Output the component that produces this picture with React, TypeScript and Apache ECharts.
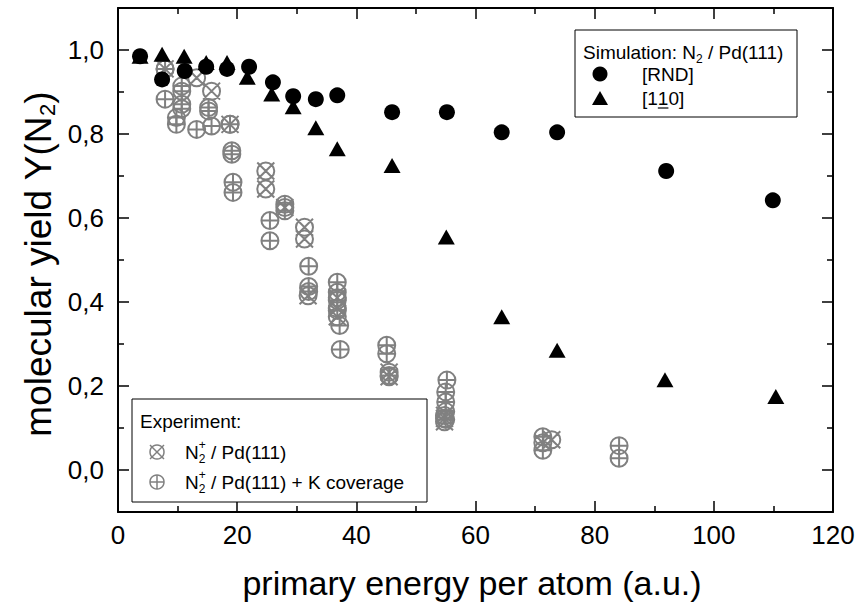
import React, { useEffect, useRef } from 'react';
import * as echarts from 'echarts';

// ---------- data ----------
const xTicks = [0, 20, 40, 60, 80, 100, 120];
const yMajor = [0, 0.2, 0.4, 0.6, 0.8, 1.0];
const yMinor = [0.1, 0.3, 0.5, 0.7, 0.9];

// Simulation N2 / Pd(111), [RND]
const simRnd: number[][] = [
  [3.7, 0.985], [7.4, 0.93], [11.2, 0.95], [14.8, 0.96], [18.3, 0.955], [22.0, 0.96],
  [26.0, 0.923], [29.4, 0.89], [33.2, 0.883], [36.8, 0.892], [46.0, 0.852], [55.2, 0.852],
  [64.4, 0.804], [73.7, 0.804], [92.0, 0.712], [109.9, 0.642],
];
// Simulation N2 / Pd(111), [1-10]
const sim110: number[][] = [
  [3.7, 0.985], [7.4, 0.99], [11.1, 0.985], [14.8, 0.97], [18.3, 0.97], [21.7, 0.935],
  [25.8, 0.895], [29.4, 0.865], [33.2, 0.815], [36.8, 0.765], [46.0, 0.725], [55.1, 0.555],
  [64.4, 0.365], [73.7, 0.285], [91.8, 0.215], [110.4, 0.175],
];
// Experiment N2+ / Pd(111)
const expPd: number[][] = [
  [7.9, 0.955], [13.2, 0.934], [15.7, 0.902], [18.8, 0.823], [24.8, 0.712], [24.8, 0.669],
  [28.0, 0.625], [31.3, 0.578], [31.3, 0.55], [31.9, 0.415], [36.8, 0.41], [36.8, 0.385],
  [36.8, 0.365], [45.5, 0.233], [45.5, 0.222], [54.8, 0.13], [54.8, 0.123], [54.8, 0.115],
  [72.8, 0.072], [71.3, 0.065],
];
// Experiment N2+ / Pd(111) + K coverage
const expPdK: number[][] = [
  [7.9, 0.955], [7.9, 0.883], [9.8, 0.839], [9.8, 0.823], [10.7, 0.914], [10.7, 0.902],
  [10.7, 0.871], [10.7, 0.86], [13.2, 0.811], [15.2, 0.863], [15.2, 0.855], [15.7, 0.819],
  [18.8, 0.823], [19.1, 0.76], [19.1, 0.752], [19.3, 0.685], [19.3, 0.661], [25.5, 0.594],
  [25.5, 0.546], [28.0, 0.633], [28.0, 0.617], [32.0, 0.485], [32.0, 0.437], [32.0, 0.425],
  [36.8, 0.447], [36.8, 0.423], [36.8, 0.404], [36.8, 0.38], [37.2, 0.344], [37.3, 0.287],
  [45.1, 0.297], [45.1, 0.277], [45.5, 0.225], [55.2, 0.214], [55.0, 0.186], [55.0, 0.162],
  [55.0, 0.139], [55.0, 0.12], [71.3, 0.079], [71.3, 0.047], [84.1, 0.058], [84.1, 0.028],
];

// ---------- styling ----------
const FONT = '"Liberation Sans", Arial, Helvetica, sans-serif';
const GRAY = '#808080';
const PATH_X = 'path://M0,0L20,20M20,0L0,20M0,10A10,10,0,1,1,20,10A10,10,0,1,1,0,10Z';
const PATH_PLUS = 'path://M10,0L10,20M0,10L20,10M0,10A10,10,0,1,1,20,10A10,10,0,1,1,0,10Z';

function measure(text: string, size: number): number {
  const ctx = document.createElement('canvas').getContext('2d')!;
  ctx.font = `${size}px ${FONT}`;
  return ctx.measureText(text).width;
}

function txt(text: string, x: number, y: number, size: number, extra: any = {}) {
  return {
    type: 'text',
    x,
    y,
    z: 100,
    style: {
      text,
      font: `${size}px ${FONT}`,
      fill: '#000',
      align: 'left',
      verticalAlign: 'middle',
      textAlign: 'left',
      textVerticalAlign: 'middle',
      ...extra,
    },
  };
}

function buildGraphic() {
  const els: any[] = [];
  const LS = 19;
  const SS = 12;

  // ---- top-right legend ----
  els.push({ type: 'rect', z: 90, shape: { x: 575, y: 30, width: 222, height: 87 }, style: { fill: '#fff', stroke: '#000', lineWidth: 1 } });
  const tx = 583, ty = 52;
  const w1 = measure('Simulation: N', LS);
  const ws = measure('2', SS);
  els.push(txt('Simulation: N', tx, ty, LS));
  els.push(txt('2', tx + w1, ty + 7, SS));
  els.push(txt(' / Pd(111)', tx + w1 + ws, ty, LS));
  els.push({ type: 'circle', z: 100, shape: { cx: 600, cy: 74, r: 7.5 }, style: { fill: '#000' } });
  els.push(txt('[RND]', 642, 74, LS));
  els.push({ type: 'polygon', z: 100, shape: { points: [[592, 105], [608, 105], [600, 91]] }, style: { fill: '#000' } });
  const wb = measure('[1', LS);
  const w1c = measure('1', LS);
  els.push(txt('[1', 642, 98, LS));
  els.push(txt('1', 642 + wb, 98, LS));
  els.push(txt('0]', 642 + wb + w1c, 98, LS));
  els.push({ type: 'line', z: 100, shape: { x1: 642 + wb, y1: 108, x2: 642 + wb + w1c, y2: 108 }, style: { stroke: '#000', lineWidth: 1.2 } });

  // ---- bottom-left legend ----
  els.push({ type: 'rect', z: 90, shape: { x: 132, y: 399, width: 295, height: 103 }, style: { fill: '#fff', stroke: '#000', lineWidth: 1 } });
  els.push(txt('Experiment:', 140, 421, LS));
  // crossed circle
  const c1 = { x: 157, y: 452 };
  els.push({ type: 'circle', z: 100, shape: { cx: c1.x, cy: c1.y, r: 7 }, style: { fill: 'none', stroke: GRAY, lineWidth: 1.5 } });
  els.push({ type: 'line', z: 100, shape: { x1: c1.x - 7, y1: c1.y - 7, x2: c1.x + 7, y2: c1.y + 7 }, style: { stroke: GRAY, lineWidth: 1.5 } });
  els.push({ type: 'line', z: 100, shape: { x1: c1.x + 7, y1: c1.y - 7, x2: c1.x - 7, y2: c1.y + 7 }, style: { stroke: GRAY, lineWidth: 1.5 } });
  // plus circle
  const c2 = { x: 157, y: 482 };
  els.push({ type: 'circle', z: 100, shape: { cx: c2.x, cy: c2.y, r: 7 }, style: { fill: 'none', stroke: GRAY, lineWidth: 1.5 } });
  els.push({ type: 'line', z: 100, shape: { x1: c2.x - 7, y1: c2.y, x2: c2.x + 7, y2: c2.y }, style: { stroke: GRAY, lineWidth: 1.5 } });
  els.push({ type: 'line', z: 100, shape: { x1: c2.x, y1: c2.y - 7, x2: c2.x, y2: c2.y + 7 }, style: { stroke: GRAY, lineWidth: 1.5 } });

  const wN = measure('N', LS);
  const wSS = Math.max(measure('2', SS), measure('+', SS));
  const rows: [number, string][] = [[452, ' / Pd(111)'], [482, ' / Pd(111) + K coverage']];
  rows.forEach(([yy, rest]) => {
    els.push(txt('N', 185, yy, LS));
    els.push(txt('2', 185 + wN, yy + 7, SS));
    els.push(txt('+', 185 + wN, yy - 7, SS));
    els.push(txt(rest, 185 + wN + wSS, yy, LS));
  });

  // ---- axis titles ----
  els.push(txt('primary energy per atom (a.u.)', 472, 583, 34, { align: 'center', textAlign: 'center' }));

  const YS = 37, YSS = 22;
  const a = measure('molecular yield Y(N', YS);
  const b = measure('2', YSS);
  const c = measure(')', YS);
  const W = a + b + c;
  els.push({
    type: 'group',
    x: 38,
    y: 264,
    rotation: Math.PI / 2,
    children: [
      txt('molecular yield Y(N', -W / 2, 0, YS),
      txt('2', -W / 2 + a, 9, YSS),
      txt(')', -W / 2 + a + b, 0, YS),
    ],
  });
  return els;
}

const fmtY = (v: number) => v.toFixed(1).replace('.', ',');

function yAx(position: 'left' | 'right', major: boolean, labels: boolean, line: boolean) {
  return {
    type: 'value',
    min: -0.1,
    max: 1.1,
    position,
    axisLine: { show: line, onZero: false, lineStyle: { color: '#000', width: 2 } },
    axisTick: {
      show: true,
      inside: true,
      length: major ? 11 : 6,
      customValues: major ? yMajor : yMinor,
      lineStyle: { color: '#000', width: 1.5 },
    },
    axisLabel: {
      show: labels,
      customValues: yMajor,
      formatter: fmtY,
      fontSize: 26,
      fontFamily: FONT,
      color: '#000',
      margin: 14,
    },
    splitLine: { show: false },
  };
}

function xAx(position: 'bottom' | 'top', labels: boolean) {
  return {
    type: 'value',
    min: xTicks[0],
    max: xTicks[xTicks.length - 1],
    interval: 20,
    position,
    axisLine: { show: true, onZero: false, lineStyle: { color: '#000', width: 2 } },
    axisTick: { show: true, inside: true, length: 11, lineStyle: { color: '#000', width: 1.5 } },
    minorTick: { show: true, splitNumber: 2, length: 6, lineStyle: { color: '#000', width: 1.5 } },
    axisLabel: { show: labels, fontSize: 26, fontFamily: FONT, color: '#000', margin: 10 },
    splitLine: { show: false },
  };
}

export default function App() {
  const ref = useRef<HTMLDivElement>(null);
  useEffect(() => {
    const chart = echarts.init(ref.current!, null, { renderer: 'svg' });
    const option: any = {
      animation: false,
      backgroundColor: '#fff',
      grid: { left: 118, top: 8, width: 715, height: 504, containLabel: false },
      xAxis: [xAx('bottom', true), xAx('top', false)],
      yAxis: [yAx('left', true, true, true), yAx('left', false, false, false), yAx('right', true, false, true), yAx('right', false, false, false)],
      series: [
        {
          type: 'scatter', name: 'N2+ / Pd(111)', data: expPd, symbol: PATH_X, symbolSize: 17,
          itemStyle: { color: 'rgba(0,0,0,0)', borderColor: GRAY, borderWidth: 2, opacity: 1 }, z: 2,
        },
        {
          type: 'scatter', name: 'N2+ / Pd(111) + K coverage', data: expPdK, symbol: PATH_PLUS, symbolSize: 17,
          itemStyle: { color: 'rgba(0,0,0,0)', borderColor: GRAY, borderWidth: 2, opacity: 1 }, z: 2,
        },
        {
          type: 'scatter', name: '[RND]', data: simRnd, symbol: 'circle', symbolSize: 16,
          itemStyle: { color: '#000', opacity: 1 }, z: 3,
        },
        {
          type: 'scatter', name: '[110]', data: sim110, symbol: 'triangle', symbolSize: [17, 15],
          itemStyle: { color: '#000', opacity: 1 }, z: 4,
        },
      ],
      graphic: { elements: buildGraphic() },
    };
    chart.setOption(option);
    return () => chart.dispose();
  }, []);
  return (
    <div
      ref={ref}
      style={{ position: 'absolute', left: 0, top: 0, width: 858, height: 602, background: '#fff' }}
    />
  );
}
